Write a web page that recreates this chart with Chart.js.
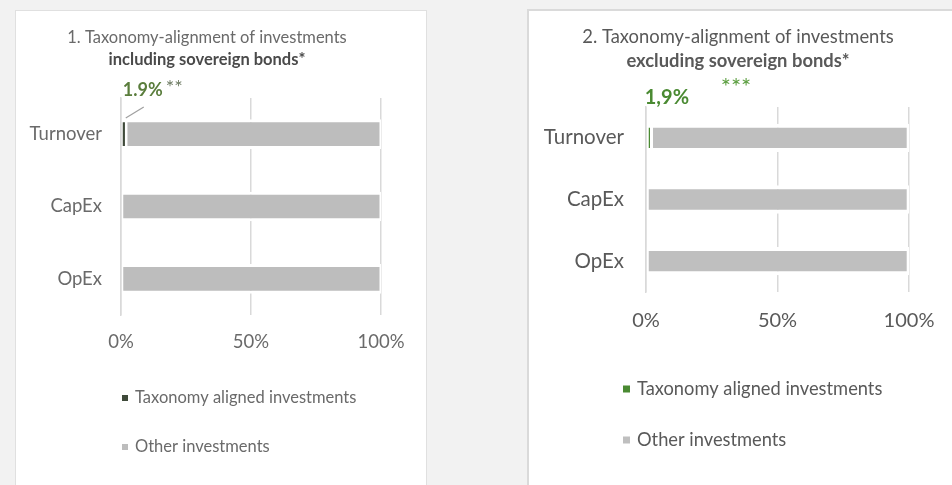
<!DOCTYPE html>
<html>
<head>
<meta charset="utf-8">
<script src="https://cdn.jsdelivr.net/npm/chart.js@4.4.1/dist/chart.umd.min.js"></script>
<style>
  html, body { margin: 0; padding: 0; background: #f2f2f2; width: 952px; height: 485px; overflow: hidden; }
  #leftWrap { position: absolute; left: 0; top: 0; width: 440px; height: 485px; filter: blur(0.7px); }
  #leftPanel { position: absolute; left: 15px; top: 10px; width: 412px; height: 490px; background: #fff; border: 1px solid #e0e0e0; box-sizing: border-box; }
  #leftCanvas { position: absolute; left: 0; top: 0; }
  #rightPanel { position: absolute; left: 527px; top: 9px; width: 440px; height: 490px; background: #fff; border-left: 2px solid #dadada; border-top: 2px solid #dadada; box-sizing: border-box; }
  #rightCanvas { position: absolute; left: 524px; top: 0; }
</style>
</head>
<body>
<div id="leftWrap">
  <div id="leftPanel"></div>
  <canvas id="leftCanvas" width="414" height="485"></canvas>
</div>
<div id="rightPanel"></div>
<canvas id="rightCanvas" width="428" height="485"></canvas>

<script>
// Categories, series and axis ticks
const categories = ['Turnover', 'CapEx', 'OpEx'];
const seriesNames = ['Taxonomy aligned investments', 'Other investments'];
const tickValues = [0, 50, 100];

// 1. Including sovereign bonds (%)
const inclAligned = [1.9, 0, 0];
const inclOther = [98.1, 100, 100];

// 2. Excluding sovereign bonds (%)
const exclAligned = [1.9, 0, 0];
const exclOther = [98.1, 100, 100];

const FONT = "Lato, 'Open Sans', sans-serif";

// Two-line heading: plain first line, bold second line, centred on the canvas
function drawHeading(chart, s) {
  const ctx = chart.ctx;
  const cx = chart.width / 2;
  ctx.save();
  ctx.textAlign = 'center';
  ctx.textBaseline = 'middle';
  ctx.font = s.titleSize + 'px ' + FONT;
  ctx.fillStyle = s.titleColor;
  ctx.fillText(s.title, cx, s.titleY);
  ctx.font = 'bold ' + s.titleSize + 'px ' + FONT;
  ctx.fillStyle = s.subColor;
  ctx.fillText(s.subtitle, cx, s.subY);
  ctx.restore();
}

// Stacked legend below the axis, one entry per line
function drawLegend(chart, s) {
  const ctx = chart.ctx;
  const area = chart.chartArea;
  ctx.save();
  ctx.font = s.legendSize + 'px ' + FONT;
  ctx.textAlign = 'left';
  ctx.textBaseline = 'middle';
  chart.data.datasets.forEach((ds, i) => {
    const y = area.bottom + s.legendTop + i * s.legendGap;
    const x = area.left + s.legendDx;
    ctx.fillStyle = ds.backgroundColor;
    ctx.fillRect(x, y - s.markSize / 2, s.markSize, s.markSize);
    ctx.fillStyle = s.textColor;
    ctx.fillText(ds.label, x + s.markSize + 7, y);
  });
  ctx.restore();
}

function buildChart(el, s) {
  return new Chart(el, {
    type: 'bar',
    data: {
      labels: categories,
      datasets: [
        { label: seriesNames[0], data: s.aligned, backgroundColor: s.alignedColor,
          borderColor: '#ffffff', borderWidth: s.alignedBorder, borderSkipped: false,
          barPercentage: s.barPct, categoryPercentage: 1 },
        { label: seriesNames[1], data: s.other, backgroundColor: s.otherColor,
          borderColor: '#ffffff', borderWidth: s.otherBorder, borderSkipped: false,
          barPercentage: s.barPct, categoryPercentage: 1 }
      ]
    },
    options: {
      indexAxis: 'y',
      responsive: false,
      animation: false,
      events: [],
      layout: { padding: { top: s.padTop, left: 0, right: s.padRight, bottom: s.padBottom } },
      scales: {
        x: {
          stacked: true, min: 0, max: 100,
          afterBuildTicks: sc => { sc.ticks = tickValues.map(v => ({ value: v })); },
          afterFit: sc => { sc.height = 40; sc.paddingLeft = 0; sc.paddingRight = 0; },
          ticks: { callback: v => v + '%', color: s.textColor, maxRotation: 0,
                   font: { family: FONT, size: s.tickSize }, padding: s.xTickPad },
          grid: { color: '#d9d9d9', lineWidth: s.gridWidth, drawTicks: false },
          border: { display: false }
        },
        y: {
          stacked: true,
          afterFit: sc => { sc.width = s.yWidth; },
          ticks: { color: s.textColor, font: { family: FONT, size: s.catSize }, padding: s.yTickPad },
          grid: { display: false, drawTicks: false },
          border: { display: true, color: '#d9d9d9', width: s.gridWidth, z: 1 }
        }
      },
      plugins: {
        legend: { display: false },
        tooltip: { enabled: false },
        title: { display: false }
      }
    },
    plugins: [{
      id: 'notes',
      afterDatasetsDraw(chart) { s.notes(chart); },
      afterDraw(chart) { drawHeading(chart, s); drawLegend(chart, s); }
    }]
  });
}

// Chart 1 — including sovereign bonds
buildChart(document.getElementById('leftCanvas'), {
  aligned: inclAligned, other: inclOther,
  alignedColor: '#3f4a3a', otherColor: '#bdbdbd',
  alignedBorder: { top: 3, bottom: 3, left: 1, right: 1 },
  otherBorder: { top: 3, bottom: 3, left: 1.5, right: 1.5 },
  barPct: 0.41,
  padTop: 98, padRight: 33, padBottom: 130, yWidth: 121,
  tickSize: 18.5, catSize: 18.5, xTickPad: 16, yTickPad: 19, gridWidth: 1.5,
  textColor: '#6a6a6a',
  title: '1. Taxonomy-alignment of investments', subtitle: 'including sovereign bonds*',
  titleColor: '#6a6a6a', subColor: '#4a4a4a', titleSize: 16.5, titleY: 38, subY: 60,
  legendSize: 16.5, legendTop: 83, legendGap: 49, legendDx: 1, markSize: 6,
  notes(chart) {
    const ctx = chart.ctx, area = chart.chartArea;
    const bar = chart.getDatasetMeta(0).data[0];
    const v = chart.data.datasets[0].data[0];
    ctx.save();
    ctx.strokeStyle = '#a0a0a0';
    ctx.lineWidth = 1.2;
    ctx.beginPath();
    ctx.moveTo(bar.base + 22, area.top + 9);
    ctx.lineTo(bar.base + 4, area.top + 20);
    ctx.stroke();
    ctx.textAlign = 'left';
    ctx.textBaseline = 'middle';
    ctx.font = 'bold 18px ' + FONT;
    ctx.fillStyle = '#5a7d3c';
    const label = v.toFixed(1) + '%';
    ctx.fillText(label, bar.base + 1, area.top - 8);
    const w = ctx.measureText(label).width;
    ctx.textBaseline = 'alphabetic';
    ctx.font = '20px ' + FONT;
    ctx.fillStyle = '#6d7a62';
    ctx.fillText('**', bar.base + 4 + w, area.top - 4);
    ctx.restore();
  }
});

// Chart 2 — excluding sovereign bonds
buildChart(document.getElementById('rightCanvas'), {
  aligned: exclAligned, other: exclOther,
  alignedColor: '#4a8a32', otherColor: '#bfbfbf',
  alignedBorder: { top: 4, bottom: 4, left: 2, right: 1 },
  otherBorder: { top: 4, bottom: 4, left: 2, right: 2.3 },
  barPct: 0.46,
  padTop: 107, padRight: 43, padBottom: 153, yWidth: 122,
  tickSize: 20, catSize: 20.5, xTickPad: 17, yTickPad: 22, gridWidth: 1.5,
  textColor: '#595959',
  title: '2. Taxonomy-alignment of investments', subtitle: 'excluding sovereign bonds*',
  titleColor: '#595959', subColor: '#595959', titleSize: 18.4, titleY: 37, subY: 61,
  legendSize: 18.3, legendTop: 97, legendGap: 51, legendDx: -23, markSize: 7,
  notes(chart) {
    const ctx = chart.ctx, area = chart.chartArea;
    const bar = chart.getDatasetMeta(0).data[0];
    const v = chart.data.datasets[0].data[0];
    ctx.save();
    ctx.textAlign = 'left';
    ctx.textBaseline = 'middle';
    ctx.font = 'bold 20px ' + FONT;
    ctx.fillStyle = '#4a8a32';
    ctx.fillText(v.toFixed(1).replace('.', ',') + '%', bar.base - 2, area.top - 9);
    ctx.font = '24px ' + FONT;
    ctx.textAlign = 'center';
    ctx.textBaseline = 'alphabetic';
    ctx.fillStyle = '#5b9e3f';
    ctx.fillText('***', area.left + 90, area.top - 12);
    ctx.restore();
  }
});
</script>
</body>
</html>
